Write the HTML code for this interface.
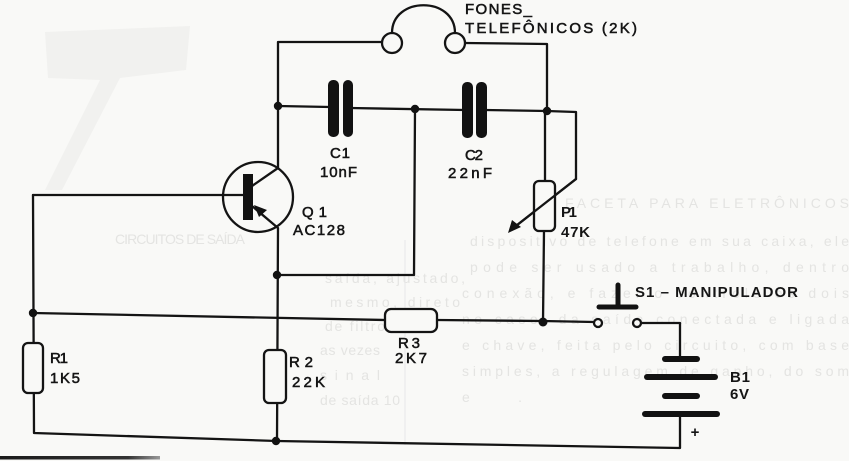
<!DOCTYPE html>
<html><head><meta charset="utf-8"><style>
html,body{margin:0;padding:0;background:#f9f9f7;}
svg{display:block;}
.t{font-family:"Liberation Sans",sans-serif;fill:#151515;stroke:#151515;stroke-width:0.55;font-size:15px;}
.b{font-family:"Liberation Sans",sans-serif;fill:#151515;font-weight:bold;font-size:15px;}
.g{font-family:"Liberation Sans",sans-serif;fill:#e4e4e2;font-size:14px;}
</style></head><body>
<svg width="849" height="461" viewBox="0 0 849 461" xmlns="http://www.w3.org/2000/svg">
<rect width="849" height="461" fill="#f9f9f7"/>
<!-- faint bleed-through -->
<polygon points="45,32 190,26 186,70 120,78 62,190 45,190 100,80 48,78" fill="#f1f1ef"/>
<text class="g" x="565" y="208" font-size="17" textLength="284" lengthAdjust="spacing">FACETA PARA ELETRÔNICOS</text>
<text class="g" x="115" y="244" font-size="15" textLength="130" lengthAdjust="spacing">CIRCUITOS DE SAÍDA</text>
<text class="g" x="470" y="246" textLength="379" lengthAdjust="spacing">dispositivo de telefone em sua caixa, ele</text>
<text class="g" x="470" y="272" textLength="379" lengthAdjust="spacing">pode ser usado a trabalho, dentro</text>
<text class="g" x="462" y="298" textLength="387" lengthAdjust="spacing">conexão, e fazer o controle os dois</text>
<text class="g" x="462" y="324" textLength="387" lengthAdjust="spacing">no caso, da saída conectada e ligada</text>
<text class="g" x="462" y="350" textLength="387" lengthAdjust="spacing">e chave, feita pelo circuito, com base</text>
<text class="g" x="462" y="376" textLength="387" lengthAdjust="spacing">simples, a regulagem de ganho, do som</text>
<text class="g" x="462" y="402" textLength="60" lengthAdjust="spacing">e.</text>
<text class="g" x="325" y="283" textLength="140" lengthAdjust="spacing">saída, ajustado,</text>
<text class="g" x="330" y="307" textLength="130" lengthAdjust="spacing">mesmo, direto</text>
<text class="g" x="325" y="331" textLength="60" lengthAdjust="spacing">de filtro</text>
<text class="g" x="320" y="355" textLength="60" lengthAdjust="spacing">as vezes</text>
<text class="g" x="320" y="380" textLength="60" lengthAdjust="spacing">sinal</text>
<text class="g" x="320" y="405" textLength="80" lengthAdjust="spacing">de saída 10</text>
<line x1="405" y1="240" x2="405" y2="445" stroke="#e8e8e8" stroke-width="1"/>

<g stroke="#141414" stroke-width="2.3" fill="none" stroke-linecap="round" stroke-linejoin="round">
  <!-- top headphone loop -->
  <polyline points="278,168 278,42 382,42"/>
  <polyline points="465,43 547,44 547,111"/>
  <circle cx="392" cy="43" r="10" fill="#f9f9f7"/>
  <circle cx="455" cy="43" r="10" fill="#f9f9f7"/>
  <path d="M392,33 C392,-4 455,-4 455,33"/>
  <!-- middle cap rail -->
  <polyline points="278,106 330,107"/>
  <polyline points="350,108 465,110"/>
  <polyline points="485,110 547,111 576,112 576,179"/>
  <!-- C1 C2 -> node wire -->
  <polyline points="415,109 414,275 277,275"/>
  <!-- pot -->
  <line x1="545" y1="111" x2="545" y2="181"/>
  <line x1="544" y1="230" x2="543" y2="322"/>
  <line x1="576" y1="179" x2="512" y2="229"/>
  <!-- transistor -->
  <circle cx="258" cy="197" r="35"/>
  <line x1="33" y1="195" x2="244" y2="195"/>
  <polyline points="252,186 278,168"/>
  <polyline points="252,206 278,228 277,441"/>
  <!-- left rail -->
  <polyline points="33,195 34,433 277,441 680,448 680,415"/>
  <!-- R3 row -->
  <line x1="33" y1="313" x2="385" y2="320"/>
  <polyline points="437,320 543,321 594,322"/>
  <polyline points="641,323 680,323 680,359"/>
</g>
<!-- capacitor plates -->
<g fill="#121212">
  <rect x="328" y="80" width="11" height="57" rx="5"/>
  <rect x="343" y="80" width="10" height="57" rx="5"/>
  <rect x="462" y="82" width="11" height="56" rx="5"/>
  <rect x="476" y="82" width="11" height="56" rx="5"/>
  <rect x="243" y="174" width="10" height="46"/>
  <polygon points="254,205 259,217 267,210"/>
  <polygon points="508,233 512,220 521,227"/>
  <circle cx="278" cy="106" r="4.2"/>
  <circle cx="415" cy="109" r="4.2"/>
  <circle cx="547" cy="111" r="4.2"/>
  <circle cx="277" cy="275" r="4.2"/>
  <circle cx="33" cy="313" r="4.2"/>
  <circle cx="543" cy="322" r="4.5"/>
  <circle cx="276" cy="441" r="4.2"/>
</g>
<!-- resistors -->
<g stroke="#141414" stroke-width="2.3" fill="#f9f9f7">
  <rect x="23" y="343" width="20" height="50" rx="5"/>
  <rect x="264" y="350" width="22" height="53" rx="5"/>
  <rect x="385" y="309" width="52" height="23" rx="6"/>
  <rect x="534" y="181" width="21" height="50" rx="5"/>
  <circle cx="598" cy="323" r="4"/>
  <circle cx="637" cy="323" r="4"/>
</g>
<line x1="576" y1="179" x2="512" y2="229" stroke="#141414" stroke-width="2.3"/>
<!-- switch & battery -->
<g stroke="#121212" stroke-linecap="round">
  <line x1="599" y1="307" x2="636" y2="307" stroke-width="5"/>
  <line x1="618" y1="285" x2="618" y2="306" stroke-width="5"/>
  <line x1="665" y1="359" x2="697" y2="359" stroke-width="6"/>
  <line x1="647" y1="377" x2="715" y2="377" stroke-width="6"/>
  <line x1="665" y1="396" x2="697" y2="396" stroke-width="6"/>
  <line x1="645" y1="414" x2="717" y2="414" stroke-width="6"/>
</g>
<!-- bottom page rule -->
<defs><linearGradient id="fd" x1="0" x2="1"><stop offset="0" stop-color="#1a1a1a"/><stop offset="0.8" stop-color="#333"/><stop offset="1" stop-color="#999"/></linearGradient></defs>
<rect x="0" y="456" width="160" height="3.5" fill="url(#fd)"/>

<!-- labels -->
<text class="t" x="465" y="14" textLength="67" lengthAdjust="spacing">FONES_</text>
<text class="t" x="465" y="33" textLength="172" lengthAdjust="spacing">TELEFÔNICOS (2K)</text>
<text class="t" x="330" y="158" textLength="20" lengthAdjust="spacing">C1</text>
<text class="t" x="320" y="177" textLength="37" lengthAdjust="spacing">10nF</text>
<text class="t" x="465" y="160" textLength="18" lengthAdjust="spacing">C2</text>
<text class="t" x="448" y="178" textLength="44" lengthAdjust="spacing">22nF</text>
<text class="t" x="302" y="217" textLength="25" lengthAdjust="spacing">Q1</text>
<text class="t" x="293" y="235" textLength="52" lengthAdjust="spacing">AC128</text>
<text class="t" x="50" y="363" textLength="18" lengthAdjust="spacing">R1</text>
<text class="t" x="50" y="383" textLength="30" lengthAdjust="spacing">1K5</text>
<text class="t" x="289" y="367" textLength="24" lengthAdjust="spacing">R2</text>
<text class="t" x="292" y="387" textLength="33" lengthAdjust="spacing">22K</text>
<text class="t" x="398" y="348" textLength="22" lengthAdjust="spacing">R3</text>
<text class="t" x="395" y="363" textLength="32" lengthAdjust="spacing">2K7</text>
<text class="b" x="561" y="217" textLength="16" lengthAdjust="spacing">P1</text>
<text class="b" x="561" y="237" textLength="29" lengthAdjust="spacing">47K</text>
<text class="b" x="635" y="297" textLength="163" lengthAdjust="spacing">S1 – MANIPULADOR</text>
<text class="b" x="730" y="382" textLength="20" lengthAdjust="spacing">B1</text>
<text class="b" x="730" y="399" textLength="19" lengthAdjust="spacing">6V</text>
<text class="b" x="695" y="437" font-size="19" text-anchor="middle">+</text>
</svg>
</body></html>
